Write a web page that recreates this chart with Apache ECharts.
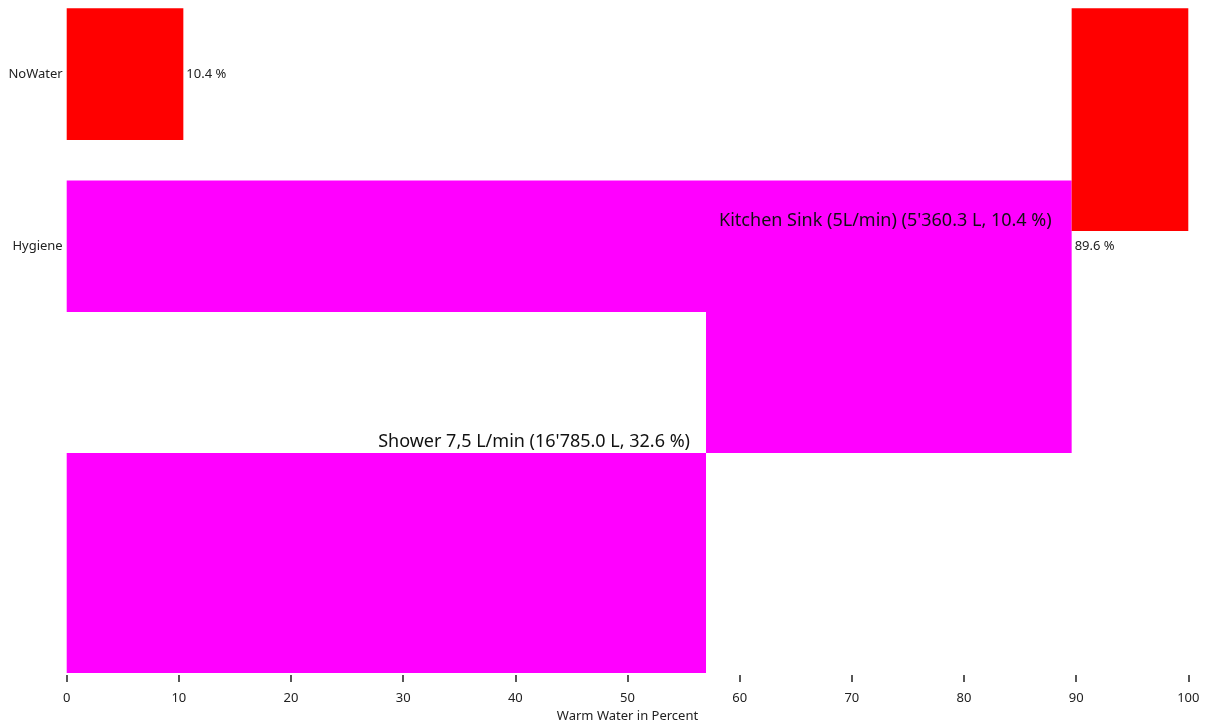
<!DOCTYPE html>
<html>
<head>
<meta charset="utf-8">
<script src="https://cdn.jsdelivr.net/npm/echarts@6/dist/echarts.min.js"></script>
<style>html,body{margin:0;padding:0;background:#fff;}#main{width:1209px;height:724px;}</style>
</head>
<body>
<div id="main"></div>
<script>
// Row categories (y axis)
const categories = ['NoWater', 'Hygiene'];
// Rectangles: x extent in percent, y extent in relative height units (0 = top, 100 = bottom)
const barStart  = [0, 0, 89.6, 57.0, 0];
const barEnd    = [10.4, 89.6, 100, 89.6, 57.0];
const barTop    = [0, 25.9, 0, 45.7, 66.9];
const barBottom = [19.8, 45.7, 33.5, 66.9, 100];
const barKind   = ['value', 'value', 'none', 'detail', 'detail'];
const barLabels = ['10.4 %', '89.6 %', '', "Kitchen Sink (5L/min) (5'360.3 L, 10.4 %)", "Shower 7,5 L/min (16'785.0 L, 32.6 %)"];
const xTicks = [0, 10, 20, 30, 40, 50, 60, 70, 80, 90, 100];

const barColors = ['#ff0000', '#ff00ff', '#ff0000', '#ff00ff', '#ff00ff'];
const detailOffsetX = [0, 0, 0, -20, -16];
const detailOffsetY = [0, 0, 0, -91, -11];
const FONT = 'Noto Sans';

const data = barStart.map((s, i) => [s, barEnd[i], barTop[i], barBottom[i], i]);
const catCenters = [0, 1].map(i => (barTop[i] + barBottom[i]) / 2);

const chart = echarts.init(document.getElementById('main'));
chart.setOption({
  animation: false,
  grid: { left: 66.7, right: 20.7, top: 8.3, bottom: 51, outerBoundsMode: 'none', containLabel: false },
  xAxis: {
    type: 'value', min: 0, max: 100, interval: 10,
    position: 'bottom',
    offset: 2,
    name: 'Warm Water in Percent', nameLocation: 'middle', nameGap: 35,
    nameTextStyle: { fontFamily: FONT, fontSize: 13, color: '#222' },
    axisLine: { show: false, onZero: false },
    axisTick: { show: true, inside: false, length: 7, customValues: xTicks, lineStyle: { color: '#222222', width: 1.5 } },
    axisLabel: { show: true, fontFamily: FONT, fontSize: 13, color: '#222', margin: 17, customValues: xTicks },
    splitLine: { show: false }
  },
  yAxis: {
    type: 'value', min: 0, max: 100, inverse: true,
    axisLine: { show: false, onZero: false },
    axisTick: { show: false },
    splitLine: { show: false },
    axisLabel: {
      fontFamily: FONT, fontSize: 13, color: '#222', margin: 4,
      customValues: catCenters,
      formatter: function (v) {
        const idx = catCenters.findIndex(c => Math.abs(c - v) < 1e-6);
        return idx >= 0 ? categories[idx] : '';
      }
    }
  },
  series: [{
    type: 'custom',
    data: data,
    encode: { x: [0, 1], y: [2, 3] },
    renderItem: function (params, api) {
      const i = api.value(4);
      const p0 = api.coord([api.value(0), api.value(2)]);
      const p1 = api.coord([api.value(1), api.value(3)]);
      const children = [{
        type: 'rect',
        shape: { x: p0[0], y: p0[1], width: p1[0] - p0[0], height: p1[1] - p0[1] },
        style: { fill: barColors[i] }
      }];
      const kind = barKind[i];
      if (kind === 'value') {
        children.push({
          type: 'text',
          style: { x: p1[0] + 3, y: (p0[1] + p1[1]) / 2, text: barLabels[i],
            align: 'left', verticalAlign: 'middle',
            font: '13px "' + FONT + '"', fill: '#222' }
        });
      } else if (kind === 'detail') {
        children.push({
          type: 'text',
          z2: 10,
          style: { x: p1[0] + detailOffsetX[i], y: p0[1] + detailOffsetY[i], text: barLabels[i],
            align: 'right', verticalAlign: 'middle',
            font: '18px "' + FONT + '"', fill: '#111' }
        });
      }
      return { type: 'group', children: children };
    }
  }]
});
</script>
</body>
</html>
